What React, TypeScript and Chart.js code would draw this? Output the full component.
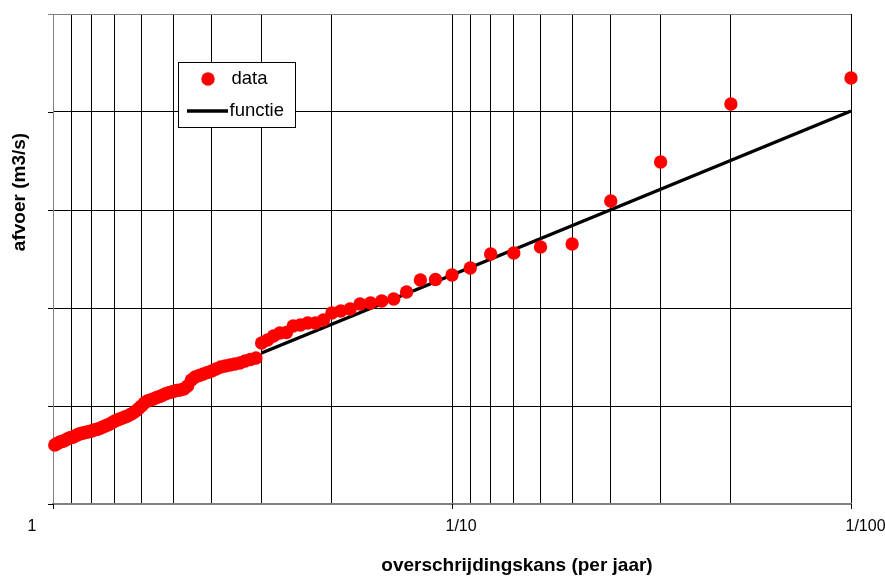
import React, { useEffect, useRef } from "react";
import { Chart, registerables } from "chart.js";

Chart.register(...registerables);

// Exceedance probability (per year) of each ranked observation
const exceedanceProb = [
  0.01, 0.02, 0.03, 0.04, 0.05, 0.06, 0.07, 0.08, 0.09, 0.10,
  0.11, 0.12, 0.13, 0.14, 0.15, 0.16, 0.17, 0.18, 0.19, 0.20,
  0.21, 0.22, 0.23, 0.24, 0.25, 0.26, 0.27, 0.28, 0.29, 0.30,
  0.31, 0.32, 0.33, 0.34, 0.35, 0.36, 0.37, 0.38, 0.39, 0.40,
  0.41, 0.42, 0.43, 0.44, 0.45, 0.46, 0.47, 0.48, 0.49, 0.50,
  0.51, 0.52, 0.53, 0.54, 0.55, 0.56, 0.57, 0.58, 0.59, 0.60,
  0.61, 0.62, 0.63, 0.64, 0.65, 0.66, 0.67, 0.68, 0.69, 0.70,
  0.71, 0.72, 0.73, 0.74, 0.75, 0.76, 0.77, 0.78, 0.79, 0.80,
  0.81, 0.82, 0.83, 0.84, 0.85, 0.86, 0.87, 0.88, 0.89, 0.90,
  0.91, 0.92, 0.93, 0.94, 0.95, 0.96, 0.97, 0.98, 0.99,
];

// Observed discharge (arbitrary units, axis is unlabeled)
const discharge = [
  426, 400, 342, 303, 260, 257, 251, 250, 236, 229,
  224.5, 224, 212, 205, 203, 201, 200, 195, 193, 191,
  184, 181, 181, 179, 178, 171.5, 171, 168, 164, 161,
  146, 144.5, 143, 141, 140, 139, 138, 137, 135, 133,
  131.5, 130, 128.5, 127, 124, 118, 115, 114, 113.5, 112.5,
  111.5, 110.5, 109, 107.5, 106.5, 105, 104, 103, 101, 98,
  95.5, 93, 91, 89.5, 88, 87, 86, 85, 84, 83,
  81.5, 80, 79, 78, 77, 76, 75, 74.5, 74, 73,
  72.5, 72, 71.5, 71, 70.5, 70, 69, 68, 67, 66.5,
  66, 65, 64, 63, 62.5, 62, 61, 60, 59,
];

// Fitted function
const functieProb = [0.3, 0.1, 0.01];
const functieValue = [151, 229, 393];

// Axis grid / tick positions
const xGridProb = [
  1, 0.9, 0.8, 0.7, 0.6, 0.5, 0.4, 0.3, 0.2, 0.1,
  0.09, 0.08, 0.07, 0.06, 0.05, 0.04, 0.03, 0.02, 0.01,
];
const xLabelProb = [1, 0.1, 0.01];
const xLabelText = ["1", "1/10", "1/100"];
const yGrid = [0, 98, 196, 294, 392, 490];

const seriesNames = ["data", "functie"];
const xTitle = "overschrijdingskans (per jaar)";
const yTitle = "afvoer (m3/s)";

const FONT = '"Liberation Sans", Arial, sans-serif';

const overlayPlugin = {
  id: "overlay",
  afterDraw(chart: any) {
    const ctx = chart.ctx as CanvasRenderingContext2D;
    const xs = chart.scales.x;
    const ys = chart.scales.y;
    const area = chart.chartArea;
    ctx.save();

    // y tick marks (grid lines extend slightly left of the axis)
    ctx.lineWidth = 1;
    yGrid.forEach((v) => {
      const py = Math.round(ys.getPixelForValue(v)) + 0.5;
      ctx.strokeStyle = v === yGrid[yGrid.length - 1] ? "#808080" : "#000";
      ctx.beginPath();
      ctx.moveTo(area.left - 5, py);
      ctx.lineTo(area.left, py);
      ctx.stroke();
    });

    // x major tick marks and labels
    const labelOffsets = [-26, -7, -6];
    ctx.font = `16px ${FONT}`;
    ctx.fillStyle = "#000";
    ctx.textBaseline = "middle";
    ctx.textAlign = "left";
    xLabelProb.forEach((p, i) => {
      const px = Math.round(xs.getPixelForValue(p)) + 0.5;
      ctx.strokeStyle = "#000";
      ctx.beginPath();
      ctx.moveTo(px, area.bottom);
      ctx.lineTo(px, area.bottom + 5);
      ctx.stroke();
      ctx.fillText(xLabelText[i], px + labelOffsets[i], area.bottom + 23);
    });

    // axis titles
    ctx.font = `bold 19px ${FONT}`;
    ctx.textAlign = "center";
    ctx.fillText(xTitle, 517, 566);
    ctx.save();
    ctx.translate(20, 192);
    ctx.rotate(-Math.PI / 2);
    ctx.fillText(yTitle, 0, 0);
    ctx.restore();

    // legend
    const lx = 178.5, ly = 62.5, lw = 117, lh = 65;
    ctx.fillStyle = "#fff";
    ctx.fillRect(lx, ly, lw, lh);
    ctx.strokeStyle = "#000";
    ctx.lineWidth = 1;
    ctx.strokeRect(lx, ly, lw, lh);
    ctx.fillStyle = "#ff0000";
    ctx.beginPath();
    ctx.arc(208, 79, 6.7, 0, Math.PI * 2);
    ctx.fill();
    ctx.strokeStyle = "#000";
    ctx.lineWidth = 3.5;
    ctx.beginPath();
    ctx.moveTo(187, 111);
    ctx.lineTo(228, 111);
    ctx.stroke();
    ctx.fillStyle = "#000";
    ctx.font = `18.5px ${FONT}`;
    ctx.textAlign = "left";
    ctx.textBaseline = "middle";
    ctx.fillText(seriesNames[0], 231.5, 79);
    ctx.fillText(seriesNames[1], 229.5, 111);

    ctx.restore();
  },
};

export default function App() {
  const canvasRef = useRef<HTMLCanvasElement | null>(null);

  useEffect(() => {
    const canvas = canvasRef.current;
    if (!canvas) return;
    const chart = new Chart(canvas, {
      type: "scatter",
      data: {
        datasets: [
          {
            label: seriesNames[0],
            data: exceedanceProb.map((p, i) => ({ x: p, y: discharge[i] })),
            backgroundColor: "#ff0000",
            borderWidth: 0,
            pointRadius: 6.7,
            pointHoverRadius: 6.7,
            showLine: false,
            clip: false as any,
          },
          {
            label: seriesNames[1],
            data: functieProb.map((p, i) => ({ x: p, y: functieValue[i] })),
            borderColor: "#000",
            backgroundColor: "#000",
            borderWidth: 3.5,
            pointRadius: 0,
            showLine: true,
            clip: false as any,
          },
        ],
      },
      options: {
        animation: false,
        responsive: true,
        maintainAspectRatio: false,
        layout: { padding: { left: 53, top: 14, right: 34, bottom: 72 } },
        plugins: {
          legend: { display: false },
          tooltip: { enabled: false },
        },
        scales: {
          x: {
            type: "logarithmic",
            reverse: true,
            min: 0.01,
            max: 1,
            afterBuildTicks: (scale: any) => {
              scale.ticks = xGridProb.map((v) => ({ value: v }));
            },
            ticks: { display: false, autoSkip: false },
            grid: { color: "#000", lineWidth: 1, drawTicks: false },
            border: { color: "#808080", width: 2 },
          },
          y: {
            type: "linear",
            min: 0,
            max: 490,
            afterBuildTicks: (scale: any) => {
              scale.ticks = yGrid.map((v) => ({ value: v }));
            },
            ticks: { display: false },
            grid: {
              color: (c: any) => (c.tick && c.tick.value === 490 ? "#808080" : "#000"),
              lineWidth: 1,
              drawTicks: false,
            },
            border: { color: "#808080", width: 1 },
          },
        },
      },
      plugins: [overlayPlugin],
    });
    return () => chart.destroy();
  }, []);

  return (
    <div style={{ position: "absolute", left: 0, top: 0, width: 885, height: 576, background: "#fff" }}>
      <canvas ref={canvasRef} />
    </div>
  );
}
